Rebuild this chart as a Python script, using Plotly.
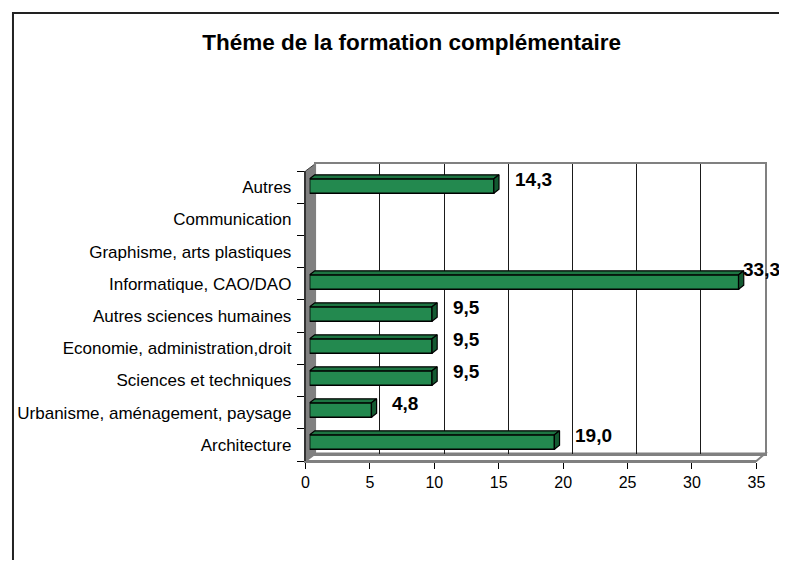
import plotly.graph_objects as go

# the page body adds an 8 px margin; keep the figure inside the 787x568 window
SHIFT = 8
W, H = 787 - SHIFT, 568 - 2 * SHIFT

TITLE = "Théme de la formation complémentaire"
categories = [
    "Architecture",
    "Urbanisme, aménagement, paysage",
    "Sciences et techniques",
    "Economie, administration,droit",
    "Autres sciences humaines",
    "Informatique, CAO/DAO",
    "Graphisme, arts plastiques",
    "Communication",
    "Autres",
]
percent = [19.0, 4.8, 9.5, 9.5, 9.5, 33.3, 0.0, 0.0, 14.3]
x_ticks = [0, 5, 10, 15, 20, 25, 30, 35]

FONT = "Liberation Sans, Arial, sans-serif"
GREEN = "#23894f"
GREEN_TOP = "#1d7542"
GREEN_SIDE = "#135a31"
WALL = "#808080"

# pseudo-3d bar depth, in data units
DEPTH_X = 0.4
DEPTH_Y = 0.125
BAR_W = 0.45


def px(p):
    return (p - SHIFT) / W


def py(p):
    return 1 - (p - SHIFT) / H


def fmt(v):
    return f"{v:.1f}".replace(".", ",")


n = len(categories)
ypos = list(range(n))
y_range = [-0.5, n - 0.5]
x_range = [x_ticks[0], x_ticks[-1]]

# top and side faces of each bar
top_x, top_y, side_x, side_y = [], [], [], []
for i, v in zip(ypos, percent):
    if v <= 0:
        continue
    h = BAR_W / 2
    top_x += [0, v, v + DEPTH_X, DEPTH_X, 0, None]
    top_y += [i + h, i + h, i + h + DEPTH_Y, i + h + DEPTH_Y, i + h, None]
    side_x += [v, v + DEPTH_X, v + DEPTH_X, v, v, None]
    side_y += [i - h, i - h + DEPTH_Y, i + h + DEPTH_Y, i + h, i - h, None]

fig = go.Figure()

# empty traces so the back plane and the front axes get drawn
for xa, ya in [("x", "y"), ("x2", "y2")]:
    fig.add_trace(go.Scatter(x=[None], y=[None], xaxis=xa, yaxis=ya, hoverinfo="skip"))

fig.add_trace(
    go.Bar(
        x=[v if v > 0 else None for v in percent],
        y=ypos,
        orientation="h",
        width=BAR_W,
        marker=dict(color=GREEN, line=dict(color="black", width=1.5)),
        xaxis="x3",
        yaxis="y3",
        hoverinfo="skip",
    )
)
for fx, fy, col in [(top_x, top_y, GREEN_TOP), (side_x, side_y, GREEN_SIDE)]:
    fig.add_trace(
        go.Scatter(
            x=fx,
            y=fy,
            mode="lines",
            fill="toself",
            fillcolor=col,
            line=dict(color="black", width=1.2),
            xaxis="x3",
            yaxis="y3",
            hoverinfo="skip",
        )
    )

# value labels
for i, v in zip(ypos, percent):
    if v <= 0:
        continue
    if v + 4 > x_range[1]:
        lx, ly = v + 0.2, i + 0.4
    else:
        lx, ly = v + 1.45, i + 0.2
    fig.add_annotation(
        x=lx,
        y=ly,
        xref="x3",
        yref="y3",
        text=fmt(v),
        showarrow=False,
        xanchor="left",
        yanchor="middle",
        font=dict(family=FONT, size=19, color="black", weight="bold"),
    )

# back plane (x, y), front axes (x2, y2), bars (x3, y3)
back_x = [px(316.7), px(774)]
back_y = [py(453.5), py(163.5)]
front_x = [px(306.5), px(765)]
front_y = [py(461), py(171)]
bar_x = [px(310.7), px(310.7 + 13.1 * 35)]
bar_y = [py(458), py(170)]

fig.update_layout(
    width=W,
    height=H,
    autosize=False,
    margin=dict(l=0, r=0, t=0, b=0),
    paper_bgcolor="white",
    plot_bgcolor="rgba(0,0,0,0)",
    showlegend=False,
    font=dict(family=FONT, size=16, color="black"),
    title=dict(
        text=TITLE,
        x=px(411.7),
        y=py(42),
        xanchor="center",
        yanchor="middle",
        font=dict(family=FONT, size=22.5, color="black", weight="bold"),
    ),
    xaxis=dict(
        domain=back_x,
        range=x_range,
        anchor="y",
        tickmode="array",
        tickvals=x_ticks,
        showgrid=True,
        gridcolor="#1a1a1a",
        gridwidth=1,
        showticklabels=False,
        ticks="",
        zeroline=False,
        showline=True,
        mirror=True,
        linecolor=WALL,
        linewidth=2,
        fixedrange=True,
    ),
    yaxis=dict(
        domain=back_y,
        range=y_range,
        anchor="x",
        showgrid=False,
        showticklabels=False,
        ticks="",
        zeroline=False,
        showline=True,
        mirror=True,
        linecolor=WALL,
        linewidth=2,
        fixedrange=True,
    ),
    xaxis2=dict(
        domain=front_x,
        range=x_range,
        anchor="y2",
        tickmode="array",
        tickvals=x_ticks,
        showgrid=False,
        zeroline=False,
        showline=True,
        linecolor=WALL,
        linewidth=2,
        ticks="outside",
        ticklen=6,
        tickcolor="black",
        tickfont=dict(family=FONT, size=16),
        fixedrange=True,
    ),
    yaxis2=dict(
        domain=front_y,
        range=y_range,
        anchor="x2",
        tickmode="array",
        tickvals=ypos,
        ticktext=categories,
        ticks="",
        ticklabelstandoff=9,
        minor=dict(
            tickmode="array",
            tickvals=[k - 0.5 for k in range(n + 1)],
            ticks="outside",
            ticklen=7,
            tickcolor="black",
        ),
        showgrid=False,
        zeroline=False,
        showline=True,
        linecolor="#333333",
        linewidth=1.5,
        tickfont=dict(family=FONT, size=17),
        fixedrange=True,
    ),
    xaxis3=dict(domain=bar_x, range=x_range, anchor="y3", visible=False, fixedrange=True),
    yaxis3=dict(domain=bar_y, range=y_range, anchor="x3", visible=False, fixedrange=True),
)

# side wall, floor and outer chart frame
fx0, fx1 = px(306.5), px(765)
bx0, bx1 = px(316.7), px(774)
fyb, fyt = py(461), py(171)
byb, byt = py(453.5), py(163.5)
fig.add_shape(
    type="path",
    xref="paper",
    yref="paper",
    path=f"M {fx0},{fyb} L {fx0},{fyt} L {bx0},{byt} L {bx0},{byb} Z",
    fillcolor=WALL,
    line=dict(color="#404040", width=1),
    layer="below",
)
fig.add_shape(
    type="path",
    xref="paper",
    yref="paper",
    path=f"M {fx0},{fyb} L {fx1},{fyb} L {bx1},{byb} L {bx0},{byb} Z",
    fillcolor="white",
    line=dict(color=WALL, width=2),
    layer="below",
)
fig.add_shape(
    type="rect",
    xref="paper",
    yref="paper",
    x0=px(9),
    y0=py(13),
    x1=1.05,
    y1=-0.05,
    line=dict(color="#222222", width=2),
    layer="below",
)

fig.write_html("out.html")
